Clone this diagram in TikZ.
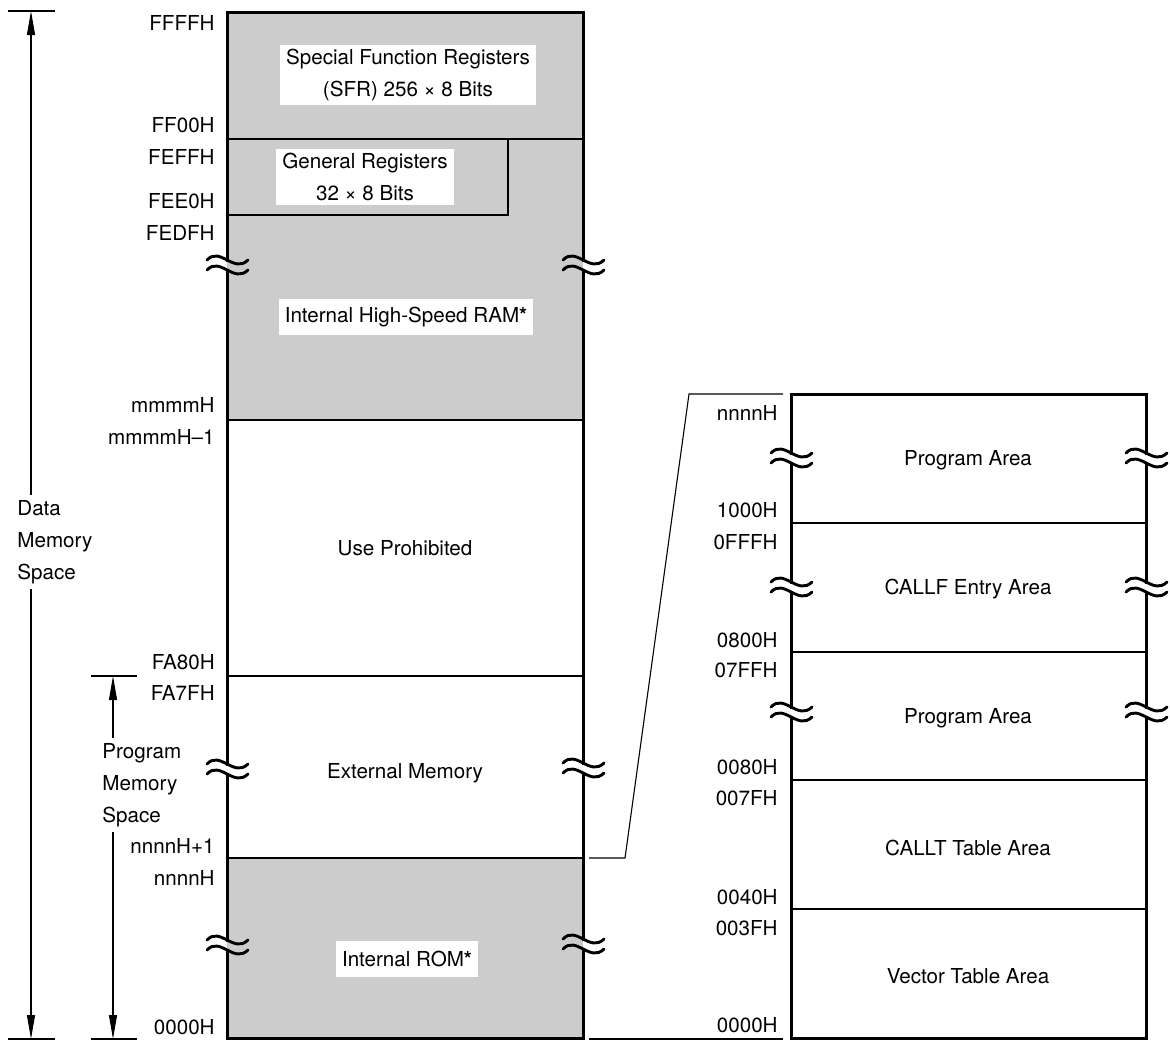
\documentclass[tikz,border=0pt]{standalone}
\usepackage{fontspec}
\setmainfont{TeX Gyre Heros}
\usetikzlibrary{positioning, calc}
\usetikzlibrary{arrows.meta}

\colorlet{romgray}{black!20}

% break mark on a column edge: x, y, colour inside, offset towards inside
\newcommand\wavebreak[4]{%
	\fill[white] (#1-3,#2-3.5) rectangle (#1+3,#2+3.5);
	\fill[#3] (#1,#2-3.5) rectangle ({#1+(#4)},#2+3.5);
	\draw[brk] (#1-20,#2-5) .. controls (#1-7,#2-19) and (#1+7,#2+9) .. (#1+21,#2-5);
	\draw[brk] (#1-20,#2+5) .. controls (#1-7,#2-9) and (#1+7,#2+19) .. (#1+21,#2+5);
}

\begin{document}
\begin{tikzpicture}[x=0.5pt, y=-0.5pt, font=\fontsize{10.3}{16}\selectfont]
	\def \colL{227}
	\def \colR{583}
	\def \zoomL{791}
	\def \zoomR{1146}
	\def \addrx{215}
	\def \zaddrx{778}
	\tikzstyle{addr}=[anchor=east, inner sep=0pt]
	\tikzstyle{lbl}=[fill=white, align=center, inner xsep=3pt, inner ysep=2pt, minimum height=18pt]
	\tikzstyle{space-lbl}=[anchor=west, align=left, inner xsep=0pt, inner ysep=2.5pt]
	\tikzstyle{outer}=[line width=1.5pt]
	\tikzstyle{divider}=[line width=0.85pt]
	\tikzstyle{brk}=[line width=1.45pt, line cap=round]
	\tikzstyle{thinline}=[line width=0.55pt]
	\tikzstyle{span}=[thinline, -{Triangle[length=12pt, width=4pt]}]
	\useasboundingbox (0,0) rectangle (1170,1041);

	% data memory column
	\fill[romgray] (\colL,12) rectangle (\colR,420);
	\fill[romgray] (\colL,858) rectangle (\colR,1038);
	\draw[divider] (\colL,139) -- (\colR,139);
	\draw[divider] (\colL,215) -- (508,215) -- (508,139);
	\draw[divider] (\colL,420) -- (\colR,420);
	\draw[divider] (\colL,676) -- (\colR,676);
	\draw[divider] (\colL,858) -- (\colR,858);
	\draw[outer] (\colL,12) rectangle (\colR,1038);

	\node[lbl] (sfr) at (408,75) {Special Function Registers\\(SFR) 256 × 8 Bits};
	\node[lbl] (gr) at (365,177) {General Registers\\32 × 8 Bits};
	\node[lbl] (ram) at (406,317) {Internal High-Speed RAM\textbf{*}};
	\node (useprh) at (405,548) {Use Prohibited};
	\node (extmem) at (405,773) {External Memory};
	\node[lbl] (rom) at (407,959) {Internal ROM\textbf{*}};

	% addresses
	\node[addr] (a0) at (\addrx,23) {FFFFH};
	\node[addr] (a1) at (\addrx,125) {FF00H};
	\node[addr] (a2) at (\addrx,157) {FEFFH};
	\node[addr] (a3) at (\addrx,201) {FEE0H};
	\node[addr] (a4) at (\addrx,233) {FEDFH};
	\node[addr] (a5) at (\addrx,405) {mmmmH};
	\node[addr] (a6) at (\addrx,437) {mmmmH–1};
	\node[addr] (a7) at (\addrx,662) {FA80H};
	\node[addr] (a8) at (\addrx,693) {FA7FH};
	\node[addr] (a9) at (\addrx,846) {nnnnH+1};
	\node[addr] (a10) at (\addrx,878) {nnnnH};
	\node[addr] (a11) at (\addrx,1027) {0000H};

	\wavebreak{\colL}{265}{romgray}{3}
	\wavebreak{\colR}{265}{romgray}{-3}
	\wavebreak{\colL}{769}{white}{3}
	\wavebreak{\colR}{768}{white}{-3}
	\wavebreak{\colL}{945}{romgray}{3}
	\wavebreak{\colR}{944}{romgray}{-3}

	% spaces
	\coordinate (dtop) at (31,11);
	\coordinate (dbot) at (31,1039);
	\coordinate (ptop) at (113,676);
	\coordinate (pbot) at (113,1039);
	\node[space-lbl] (dms) at (17,542) {Data\\Memory\\Space};
	\node[space-lbl] (pms) at (102,785) {Program\\Memory\\Space};
	\draw[thinline] (8,11) -- (55,11);
	\draw[thinline] (8,1039) -- (55,1039);
	\draw[thinline] (91,676) -- (137,676);
	\draw[thinline] (91,1039) -- (137,1039);
	\draw[span] (dms.north -| dtop) -- (dtop);
	\draw[span] (dms.south -| dbot) -- (dbot);
	\draw[span] (pms.north -| ptop) -- (ptop);
	\draw[span] (pms.south -| pbot) -- (pbot);

	% internal ROM in detail
	\draw[divider] (\zoomL,523) -- (\zoomR,523);
	\draw[divider] (\zoomL,652) -- (\zoomR,652);
	\draw[divider] (\zoomL,780) -- (\zoomR,780);
	\draw[divider] (\zoomL,909) -- (\zoomR,909);
	\draw[outer] (\zoomL,394) rectangle (\zoomR,1038);

	\node (prog1) at (968,460) {Program Area};
	\node (callf) at (968,589) {CALLF Entry Area};
	\node (prog2) at (968,718) {Program Area};
	\node (callt) at (968,848) {CALLT Table Area};
	\node (vect) at (968,976) {Vector Table Area};

	\node[addr] (z0) at (\zaddrx,413) {nnnnH};
	\node[addr] (z1) at (\zaddrx,510) {1000H};
	\node[addr] (z2) at (\zaddrx,542) {0FFFH};
	\node[addr] (z3) at (\zaddrx,640) {0800H};
	\node[addr] (z4) at (\zaddrx,670) {07FFH};
	\node[addr] (z5) at (\zaddrx,767) {0080H};
	\node[addr] (z6) at (\zaddrx,798) {007FH};
	\node[addr] (z7) at (\zaddrx,897) {0040H};
	\node[addr] (z8) at (\zaddrx,928) {003FH};
	\node[addr] (z9) at (\zaddrx,1025) {0000H};

	\foreach \y in {458,587,712} {
		\wavebreak{\zoomL}{\y}{white}{3}
		\wavebreak{\zoomR}{\y}{white}{-3}
	}

	% zoom lines
	\coordinate (zA) at (589,858);
	\coordinate (zB) at (625,858);
	\coordinate (zC) at (689,394);
	\coordinate (zD) at (783,394);
	\coordinate (zE) at (589,1039);
	\coordinate (zF) at (783,1039);
	\draw[thinline] (zA) -- (zB) -- (zC) -- (zD);
	\draw[thinline] (zE) -- (zF);
\end{tikzpicture}
\end{document}
